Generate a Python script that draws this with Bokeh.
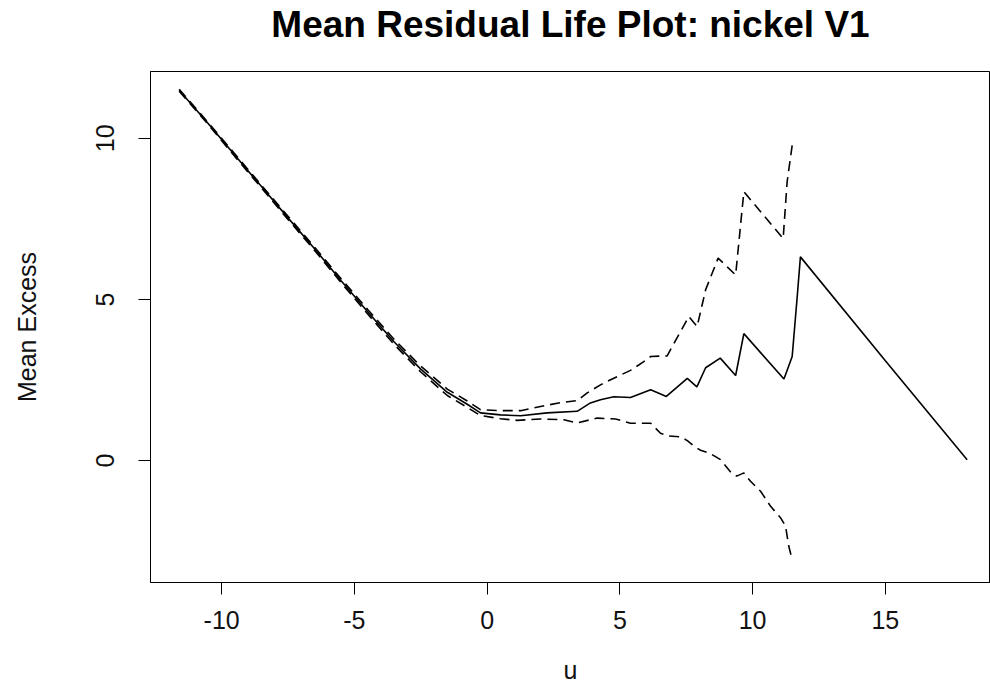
from bokeh.plotting import figure
from bokeh.models import Range1d, FixedTicker, CustomJSTickFormatter, Title
from bokeh.embed import file_html
from bokeh.resources import INLINE

# Mean residual life (solid)
u_mean = [-11.6, -10.5, -9.5, -8.5, -7.5, -6.5, -5.5, -4.5, -3.5, -2.5, -1.5, -0.75, -0.25,
          0.5, 1.26, 2.26, 3.39, 3.89, 4.27, 4.77, 5.40, 6.16, 6.75, 7.54, 7.90, 8.23, 8.78,
          9.36, 9.67, 11.18, 11.49, 11.68, 11.80, 15.0, 18.08]
e_mean = [11.49, 10.45, 9.47, 8.50, 7.53, 6.57, 5.58, 4.62, 3.68, 2.84, 2.12, 1.75, 1.48,
          1.42, 1.39, 1.48, 1.53, 1.79, 1.89, 1.98, 1.96, 2.20, 1.99, 2.55, 2.29, 2.88, 3.18,
          2.64, 3.94, 2.53, 3.23, 5.09, 6.32, 3.10, 0.03]

# Upper confidence limit (dashed)
u_upper = [-11.6, -10.5, -9.5, -8.5, -7.5, -6.5, -5.5, -4.5, -3.5, -2.5, -1.5, -0.75, -0.25,
           0.5, 1.26, 2.01, 2.76, 3.39, 3.77, 4.27, 4.65, 5.40, 5.90, 6.16, 6.78, 7.60, 7.91,
           8.23, 8.70, 9.36, 9.67, 11.15, 11.30, 11.49]
e_upper = [11.52, 10.48, 9.51, 8.54, 7.58, 6.62, 5.64, 4.69, 3.76, 2.93, 2.22, 1.85, 1.58,
           1.55, 1.55, 1.68, 1.80, 1.86, 2.10, 2.35, 2.51, 2.80, 3.07, 3.23, 3.25, 4.47, 4.16,
           5.30, 6.28, 5.76, 8.34, 6.89, 8.65, 9.78]

# Lower confidence limit (dashed)
u_lower = [-11.6, -10.5, -9.5, -8.5, -7.5, -6.5, -5.5, -4.5, -3.5, -2.5, -1.5, -0.75, -0.25,
           0.5, 1.13, 2.01, 2.89, 3.39, 4.15, 4.84, 5.40, 6.16, 6.53, 6.78, 7.28, 7.54, 7.79,
           8.04, 8.41, 8.79, 9.17, 9.40, 9.67, 9.92, 10.30, 10.67, 11.05, 11.24, 11.36, 11.49]
e_lower = [11.46, 10.42, 9.43, 8.46, 7.48, 6.52, 5.52, 4.55, 3.60, 2.75, 2.02, 1.65, 1.40,
           1.30, 1.25, 1.29, 1.27, 1.17, 1.32, 1.29, 1.16, 1.16, 0.85, 0.77, 0.74, 0.62, 0.45,
           0.32, 0.22, 0.03, -0.35, -0.48, -0.38, -0.64, -0.95, -1.41, -1.77, -2.03, -2.65, -3.07]

x_ticks = [-10, -5, 0, 5, 10, 15]
y_ticks = [0, 5, 10]
title_text = "Mean Residual Life Plot: nickel V1"

FONT = "Liberation Sans"

p = figure(width=990, height=686,
           x_range=Range1d(-12.68, 18.96), y_range=Range1d(-3.78, 12.07),
           output_backend="svg", toolbar_location=None,
           min_border_left=150, min_border_right=0, min_border_top=71, min_border_bottom=103)

p.background_fill_color = "white"
p.border_fill_color = "white"
p.outline_line_color = "black"
p.outline_line_width = 1
p.grid.visible = False

# spacer between frame and title, then the title itself
p.add_layout(Title(text=" ", text_font=FONT, text_font_size="12px", standoff=9), "above")
p.add_layout(Title(text=title_text, align="center", vertical_align="top", standoff=0,
                   text_font=FONT, text_font_size="37px", text_font_style="bold",
                   text_color="black"), "above")

fmt = CustomJSTickFormatter(code="return tick.toFixed(0);")

for ax in (p.xaxis[0], p.yaxis[0]):
    ax.axis_line_color = "black"
    ax.major_tick_line_color = "black"
    ax.major_tick_in = 0
    ax.major_tick_out = 12
    ax.minor_tick_line_color = None
    ax.formatter = fmt
    ax.major_label_text_font = FONT
    ax.major_label_text_font_size = "25px"
    ax.major_label_text_color = "#111111"
    ax.axis_label_text_font = FONT
    ax.axis_label_text_font_size = "25px"
    ax.axis_label_text_font_style = "normal"
    ax.axis_label_text_color = "#111111"

p.xaxis[0].ticker = FixedTicker(ticks=x_ticks)
p.yaxis[0].ticker = FixedTicker(ticks=y_ticks)
p.xaxis[0].axis_label = "u"
p.yaxis[0].axis_label = "Mean Excess"
p.xaxis[0].major_label_standoff = 16
p.xaxis[0].axis_label_standoff = 24
p.yaxis[0].major_label_orientation = "vertical"
p.yaxis[0].major_label_standoff = 24
p.yaxis[0].axis_label_standoff = 53

p.line(u_mean, e_mean, line_color="black", line_width=1.6)
p.line(u_upper, e_upper, line_color="black", line_width=1.6, line_dash="10 6")
p.line(u_lower, e_lower, line_color="black", line_width=1.6, line_dash="10 6")

open("out.html", "w").write(file_html(p, INLINE))
